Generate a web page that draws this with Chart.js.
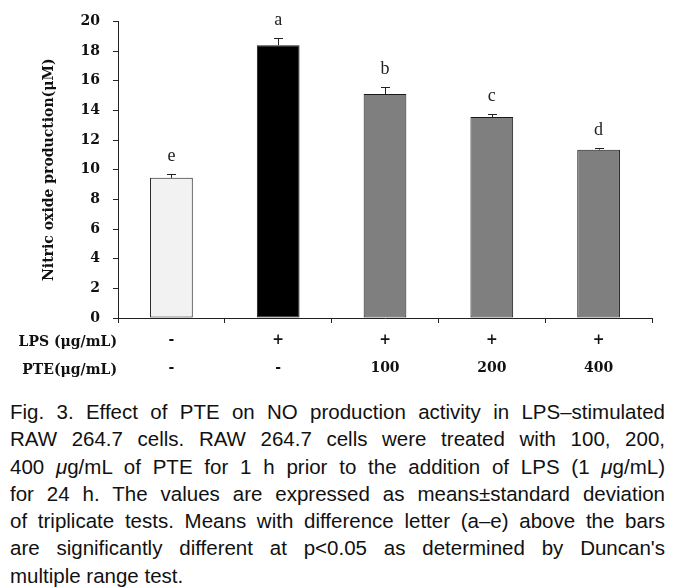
<!DOCTYPE html>
<html>
<head>
<meta charset="utf-8">
<script src="https://cdn.jsdelivr.net/npm/chart.js@4.4.1/dist/chart.umd.min.js"></script>
<style>
  html, body { margin: 0; padding: 0; background: #fff; }
  body { width: 681px; height: 588px; position: relative; overflow: hidden; }
  #wrap { position: absolute; left: 0; top: 0; width: 681px; height: 388px; }
  #caption { position: absolute; left: 10px; top: 398px; width: 655px;
    font-family: "Liberation Sans", Arial, sans-serif; font-size: 20.5px; line-height: 27.3px; color: #111; }
  #caption div { text-align: justify; text-align-last: justify; white-space: nowrap; }
  #caption div.last { text-align-last: left; }
</style>
</head>
<body>
<div id="wrap"><canvas id="c" width="681" height="388"></canvas></div>
<div id="caption">
  <div>Fig. 3. Effect of PTE on NO production activity in LPS–stimulated</div>
  <div>RAW 264.7 cells. RAW 264.7 cells were treated with 100, 200,</div>
  <div>400 <i>μ</i>g/mL of PTE for 1 h prior to the addition of LPS (1 <i>μ</i>g/mL)</div>
  <div>for 24 h. The values are expressed as means±standard deviation</div>
  <div>of triplicate tests. Means with difference letter (a–e) above the bars</div>
  <div>are significantly different at p&lt;0.05 as determined by Duncan's</div>
  <div class="last">multiple range test.</div>
</div>
<script>
const lpsRow = ['-', '+', '+', '+', '+'];
const pteRow = ['-', '-', '100', '200', '400'];
const rowTitles = ['LPS (μg/mL)', 'PTE(μg/mL)'];
const values = [9.45, 18.4, 15.1, 13.55, 11.35];
const errors = [0.25, 0.5, 0.45, 0.2, 0.13];
const letters = ['e', 'a', 'b', 'c', 'd'];
const yTicks = [0, 2, 4, 6, 8, 10, 12, 14, 16, 18, 20];
const yTitle = 'Nitric oxide production(μM)';

const categories = lpsRow.map((l, i) => [l, pteRow[i]]);

const annotPlugin = {
  id: 'annot',
  afterDatasetsDraw(chart) {
    const ctx = chart.ctx;
    const meta = chart.getDatasetMeta(0);
    const y = chart.scales.y;
    ctx.save();
    ctx.strokeStyle = '#222';
    ctx.lineWidth = 1;
    meta.data.forEach((bar, i) => {
      const x = Math.round(bar.x) + 0.5;
      const yTop = y.getPixelForValue(values[i]);
      const yErr = y.getPixelForValue(values[i] + errors[i]);
      ctx.beginPath();
      ctx.moveTo(x, yTop);
      ctx.lineTo(x, Math.round(yErr) + 0.5);
      ctx.moveTo(x - 4.5, Math.round(yErr) + 0.5);
      ctx.lineTo(x + 4.5, Math.round(yErr) + 0.5);
      ctx.stroke();
      ctx.fillStyle = '#222';
      ctx.font = '18px "Liberation Serif", serif';
      ctx.textAlign = 'center';
      ctx.textBaseline = 'alphabetic';
      ctx.fillText(letters[i], bar.x, yErr - 13);
    });
    ctx.restore();
  },
  afterDraw(chart) {
    const ctx = chart.ctx;
    const xs = chart.scales.x;
    ctx.save();
    ctx.fillStyle = '#111';
    ctx.font = 'bold 14px "DejaVu Serif", serif';
    ctx.textAlign = 'right';
    ctx.textBaseline = 'middle';
    ctx.fillText(rowTitles[0], xs.left - 1, xs.top + 24);
    ctx.fillText(rowTitles[1], xs.left - 1, xs.top + 52);
    ctx.restore();
  }
};

new Chart(document.getElementById('c'), {
  type: 'bar',
  data: {
    labels: categories,
    datasets: [{
      data: values,
      backgroundColor: ['#f2f2f2', '#000000', '#7f7f7f', '#7f7f7f', '#7f7f7f'],
      borderColor: '#1a1a1a',
      borderWidth: 1,
      borderSkipped: false,
      categoryPercentage: 1.0,
      barPercentage: 0.4
    }]
  },
  options: {
    responsive: false,
    animation: false,
    layout: { padding: { left: 0, right: 29, top: 17, bottom: 0 } },
    plugins: { legend: { display: false }, tooltip: { enabled: false } },
    scales: {
      x: {
        offset: true,
        grid: { display: true, drawOnChartArea: false, drawTicks: true, tickLength: 5, color: '#222', offset: true },
        border: { display: true, color: '#222', width: 1 },
        ticks: {
          color: '#111',
          font: { family: '"DejaVu Serif", serif', size: 14, weight: 'bold', lineHeight: 2.0 },
          padding: 3,
          maxRotation: 0,
          autoSkip: false
        },
        afterFit(scale) { scale.height = 388 - 318; }
      },
      y: {
        min: 0, max: 20,
        afterBuildTicks(scale) { scale.ticks = yTicks.map(v => ({ value: v })); },
        grid: { display: true, drawOnChartArea: false, drawTicks: true, tickLength: 5, color: '#222' },
        border: { display: true, color: '#222', width: 1 },
        ticks: {
          color: '#111',
          font: { family: '"DejaVu Serif", serif', size: 14, weight: 'bold' },
          padding: 13
        },
        title: {
          display: true,
          text: yTitle,
          color: '#111',
          font: { family: '"DejaVu Serif", serif', size: 14, weight: 'bold' },
          padding: { top: 41, bottom: 0 }
        },
        afterFit(scale) { scale.width = 118; }
      }
    }
  },
  plugins: [annotPlugin]
});
</script>
</body>
</html>
